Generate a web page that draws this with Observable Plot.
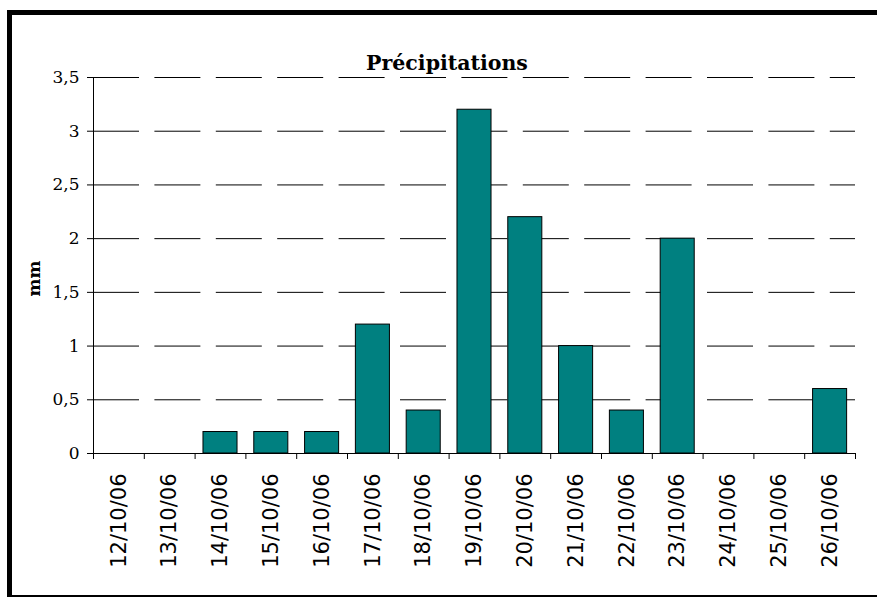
<!DOCTYPE html>
<html><head><meta charset="utf-8">
<script src="https://cdn.jsdelivr.net/npm/d3@7"></script>
<script src="https://cdn.jsdelivr.net/npm/@observablehq/plot@0.6"></script>
<style>
html,body{margin:0;padding:0;background:#fff;overflow:hidden;width:877px;height:597px}
#chart{position:absolute;left:0;top:0;width:877px;height:597px;overflow:hidden}
.edge{position:absolute;background:#000;z-index:2}
#edgeLeft{left:7px;top:10px;width:5px;height:587px}
#edgeTop{left:7px;top:10px;width:870px;height:5px}
#edgeBottom{left:7px;top:595px;width:870px;height:2px}
</style></head><body>
<div id="chart"></div>
<div class="edge" id="edgeLeft"></div><div class="edge" id="edgeTop"></div><div class="edge" id="edgeBottom"></div>
<script>
const dates = ["12/10/06","13/10/06","14/10/06","15/10/06","16/10/06","17/10/06","18/10/06","19/10/06","20/10/06","21/10/06","22/10/06","23/10/06","24/10/06","25/10/06","26/10/06"];
const precipitation = [0, 0, 0.2, 0.2, 0.2, 1.2, 0.4, 3.2, 2.2, 1.0, 0.4, 2.0, 0, 0, 0.6];
const yTicks = [0, 0.5, 1, 1.5, 2, 2.5, 3, 3.5];
const title = "Précipitations";
const yLabel = "mm";

const data = dates.map((d, i) => ({date: d, mm: precipitation[i]}));
const W = 877, H = 597, mL = 93, mR = 22, mT = 77, mB = 144;
const step = (W - mL - mR) / dates.length;
const fmt = d => String(d).replace(".", ",");

const chart = Plot.plot({
  width: W, height: H,
  marginLeft: mL, marginRight: mR, marginTop: mT, marginBottom: mB,
  style: {background: "transparent", color: "#000"},
  x: {type: "band", domain: dates, paddingInner: 0.33, paddingOuter: 0.165, round: false, label: null},
  y: {domain: [0, 3.5], label: null},
  marks: [
    Plot.gridY(yTicks, {stroke: "#000", strokeOpacity: 1, strokeWidth: 1, strokeDasharray: "46,15.4"}),
    Plot.barY(data, {x: "date", y: "mm", fill: "#008080", stroke: "#000", strokeWidth: 1}),
    Plot.frame({anchor: "left", stroke: "#000"}),
    Plot.ruleY([0], {stroke: "#000"}),
    Plot.axisY(yTicks, {tickSize: 6, tickPadding: 8, tickFormat: fmt, fontSize: 17, fontFamily: "DejaVu Serif", label: null}),
    Plot.axisX({tickSize: 6, tickFormat: () => "", dx: -step / 2, label: null}),
    Plot.axisX([dates[dates.length - 1]], {tickSize: 6, tickFormat: () => "", dx: step / 2, label: null}),
    Plot.axisX({tickSize: 0, tickRotate: -90, tickPadding: 20, fontSize: 21, fontFamily: "DejaVu Sans", label: null}),
    Plot.text([title], {frameAnchor: "top", dx: -27.5, dy: -22, fontSize: 20.5, fontWeight: "bold", fontFamily: "DejaVu Serif", fill: "#000"}),
    Plot.text([yLabel], {frameAnchor: "left", dx: -59, dy: 31, rotate: -90, fontSize: 17, fontWeight: "bold", fontFamily: "DejaVu Serif", fill: "#000"})
  ]
});
document.getElementById("chart").appendChild(chart);
</script>
</body></html>
